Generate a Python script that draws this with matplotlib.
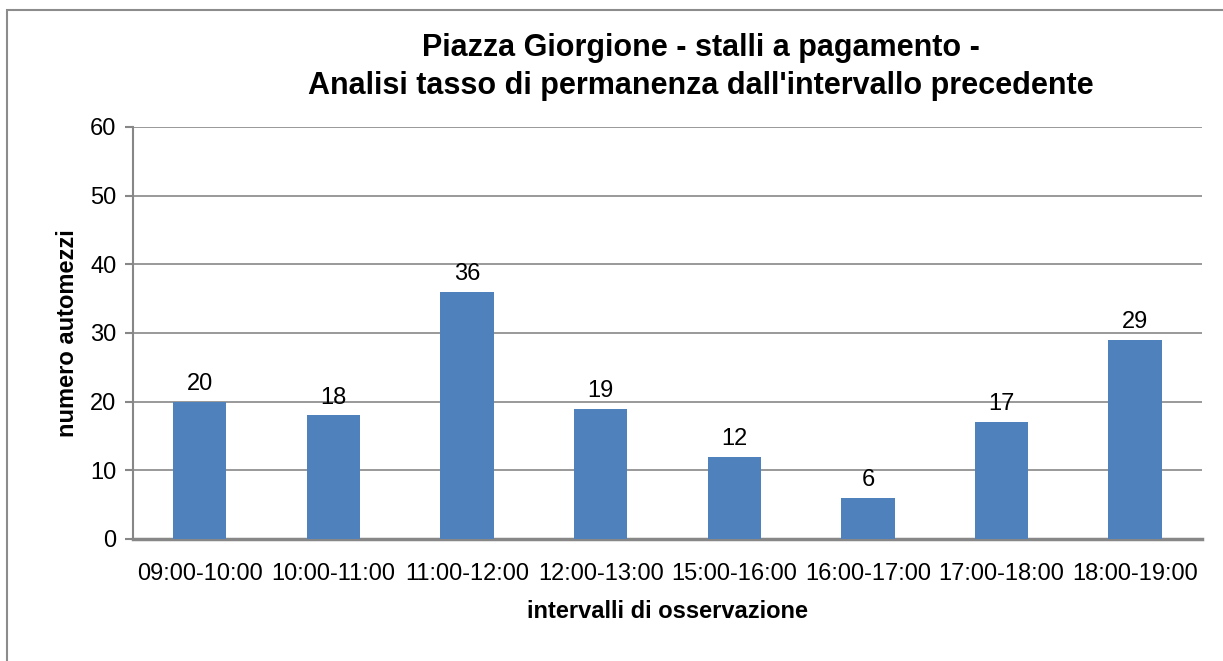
import matplotlib.pyplot as plt
from matplotlib.patches import Rectangle

plt.rcParams['font.family'] = ['Liberation Sans', 'DejaVu Sans']

intervalli = ['09:00-10:00', '10:00-11:00', '11:00-12:00', '12:00-13:00',
              '15:00-16:00', '16:00-17:00', '17:00-18:00', '18:00-19:00']
automezzi = [20, 18, 36, 19, 12, 6, 17, 29]

fig = plt.figure(figsize=(12.23, 6.61), dpi=100)
ax = fig.add_axes([0.1087, 0.1846, 0.8741, 0.6233])

# cornice esterna del grafico (tagliata a destra e in basso)
fig.patches.append(Rectangle((7 / 1223, -0.1), 1.2, 0.1 + (661 - 10) / 661,
                             transform=fig.transFigure, fill=False,
                             edgecolor='#8c8c8c', linewidth=1.5))

x = range(len(intervalli))
bars = ax.bar(x, automezzi, width=0.4, color='#4F81BD', zorder=3)
for b, v in zip(bars, automezzi):
    ax.text(b.get_x() + b.get_width() / 2, v + 1.0, str(v),
            ha='center', va='bottom', fontsize=17)

ax.set_xlim(-0.5, len(intervalli) - 0.5)
ax.set_ylim(0, 60)
ax.set_yticks(range(0, 61, 10))
ax.set_xticks(list(x))
ax.set_xticklabels(intervalli)
ax.tick_params(axis='x', length=0, labelsize=17, pad=17)
ax.tick_params(axis='y', length=6, width=1.5, color='#878787', labelsize=17, pad=6)
ax.grid(axis='y', color='#878787', linewidth=1.2, zorder=0)

for s in ['top', 'right']:
    ax.spines[s].set_visible(False)
for s in ['left', 'bottom']:
    ax.spines[s].set_color('#878787')
ax.spines['left'].set_linewidth(1.5)
ax.spines['bottom'].set_linewidth(2.5)

ax.set_xlabel('intervalli di osservazione', fontsize=17, fontweight='bold', labelpad=11)
ax.set_ylabel('numero automezzi', fontsize=17, fontweight='bold', labelpad=8)
fig.text(0.573, 0.8987, 'Piazza Giorgione - stalli a pagamento -\n'
         "Analisi tasso di permanenza dall'intervallo precedente",
         ha='center', va='center', fontsize=22, fontweight='bold', linespacing=1.35)

fig.savefig('out.png', dpi=100)
